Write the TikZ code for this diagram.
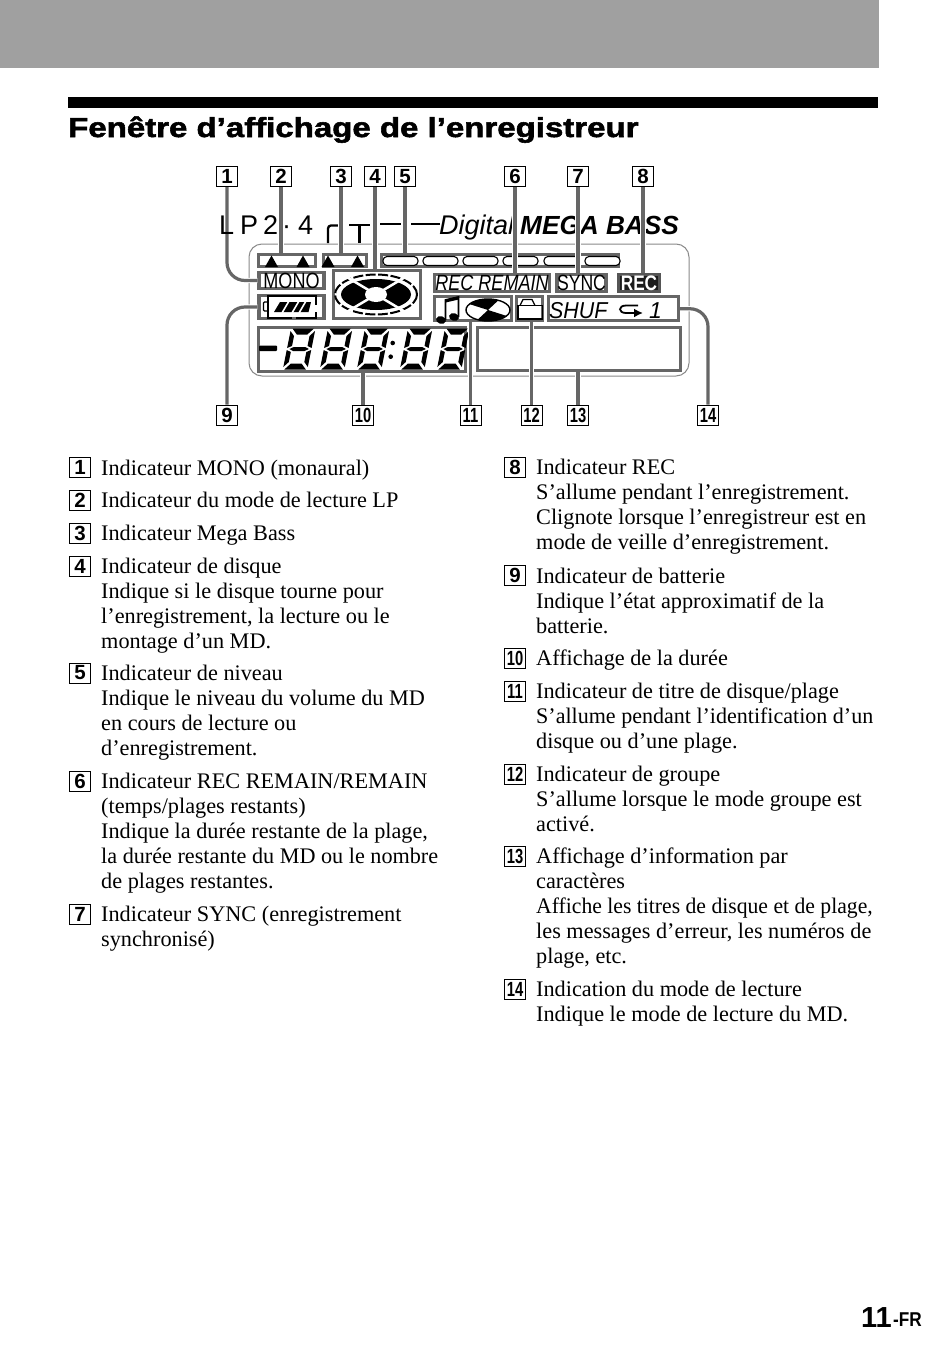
\documentclass[tikz,border=0pt]{standalone}
\usepackage{fontspec}
\usepackage{graphicx}
\usepackage{xcolor}
\usetikzlibrary{arrows.meta, positioning, calc}
\setmainfont{Liberation Serif}
\setsansfont{Liberation Sans}
\newfontfamily\titlefont[FakeStretch=1.2,FakeBold=2]{Liberation Sans Bold}
\definecolor{Ink}{HTML}{000000}
\definecolor{HeadGray}{HTML}{A0A0A0}
\definecolor{LcdGray}{HTML}{666666}
\definecolor{RimGray}{HTML}{8A8A8A}
\definecolor{RecDark}{HTML}{1C1C1C}
\newcommand{\tight}[1]{\scalebox{0.72}[1]{#1}}
\newcommand{\snug}[2]{\scalebox{#1}[1]{#2}}

\begin{document}
\begin{tikzpicture}[
  x=1pt, y=-1pt,
  font=\sffamily,
  numbox/.style={draw=Ink, line width=1pt, fill=white, minimum width=21pt, minimum height=20pt, inner sep=0pt, font=\fontsize{20.5}{20.5}\selectfont\sffamily\bfseries},
  lcd/.style={draw=LcdGray, line width=3.4pt, fill=white, inner sep=0pt},
  leader/.style={draw=LcdGray, line width=3.2pt, preaction={draw=white, line width=5.2pt}},
  desc/.style={anchor=north west, inner sep=0pt, align=left, font=\fontsize{22.25}{25}\selectfont\rmfamily, execute at begin node=\strut},
  lcddigit/.pic={
    \begin{scope}[xslant=0.2]
    \fill[Ink] (1.5,0) -- (23,0) -- (17.5,6) -- (7,6) -- cycle;
    \fill[Ink] (1.5,41) -- (23,41) -- (17.5,35) -- (7,35) -- cycle;
    \fill[Ink] (0,2.5) -- (4.5,7.5) -- (4.5,17.5) -- (0,19.5) -- cycle;
    \fill[Ink] (24.5,2.5) -- (20,7.5) -- (20,17.5) -- (24.5,19.5) -- cycle;
    \fill[Ink] (0,21.5) -- (4.5,23.5) -- (4.5,33.5) -- (0,38.5) -- cycle;
    \fill[Ink] (24.5,21.5) -- (20,23.5) -- (20,33.5) -- (24.5,38.5) -- cycle;
    \fill[Ink] (2.5,20.5) -- (6.5,18.5) -- (18,18.5) -- (22,20.5) -- (18,22.5) -- (6.5,22.5) -- cycle;
    \end{scope}
  }
]
\useasboundingbox (0,0) rectangle (950,1354);
\fill[white] (0,0) rectangle (950,1354);

% page head
\fill[HeadGray] (0,0) rectangle (879,68);
\fill[Ink] (68,97) rectangle (878,108);
\node[anchor=base west, inner sep=0pt, font=\fontsize{27.5}{28}\titlefont] (title) at (68,137) {Fenêtre d’affichage de l’enregistreur};

% print on the recorder
\draw[RimGray, line width=1pt, rounded corners=13pt] (249,244) rectangle (689,376);
\draw[Ink, line width=2.3pt, rounded corners=3pt] (328,243) -- (328,225.5) -- (338,225.5);
\draw[Ink, line width=2.3pt] (349,225) -- (370,225) (359.5,225) -- (359.5,243);
\draw[Ink, line width=2.2pt] (380,224) -- (401,224);
\draw[Ink, line width=2.2pt] (411,224) -- (440,224);
\node[anchor=base west, inner sep=0pt, font=\fontsize{27}{27}\sffamily\itshape] (digital) at (439,234) {Digital};
\node[anchor=base west, inner sep=0pt, font=\fontsize{26.2}{27}\sffamily\bfseries\itshape] (megabass) at (520,234) {MEGA BASS};

% window segments
\node[lcd, minimum width=57pt, minimum height=12pt] (lpbox) at (287,260.5) {};
\fill[Ink] (265,267) -- (271.5,255.5) -- (278,267) -- cycle;
\fill[Ink] (296.5,267) -- (303,255.5) -- (309.5,267) -- cycle;
\node[lcd, minimum width=43pt, minimum height=12pt] (bassbox) at (345,260.5) {};
\fill[Ink] (321.5,267) -- (328,255.5) -- (334.5,267) -- cycle;
\fill[Ink] (351,267) -- (357.5,255.5) -- (364,267) -- cycle;
\node[lcd, minimum width=237pt, minimum height=12pt] (levelbox) at (500,260.5) {};
\foreach \px in {383,423,463,503,544,585}
  \draw[Ink, line width=1.1pt, fill=white, rounded corners=4pt] (\px,256.5) rectangle (\px+35,265.5);

\node[lcd, minimum width=65pt, minimum height=14pt, font=\fontsize{22}{22}\sffamily] (monobox) at (291.5,280.5) {\raisebox{-1pt}{\scalebox{0.82}[1]{MONO}}};
\node[lcd, minimum width=65pt, minimum height=22.5pt] (batbox) at (291.5,307) {};
\draw[Ink, line width=1.4pt] (292,318) -- (268,318) -- (268,296) -- (316,296) -- (316,305);
\draw[Ink, line width=1.4pt] (316,312) -- (316,318) -- (296,318);
\draw[Ink, line width=1.4pt, rounded corners=1pt] (268,302) -- (263.5,302) -- (263.5,311) -- (268,311);
\fill[Ink] (274,312) -- (280,302) -- (311,302) -- (308.5,312) -- cycle;
\draw[white, line width=1.6pt] (282,313) -- (289,301) (292,313) -- (299,301) (299,313) -- (306,301);

\node[lcd, minimum width=87pt, minimum height=48pt] (discbox) at (377,294.5) {};
\draw[Ink, line width=2pt, dash pattern=on 10pt off 2.5pt] (376,294.5) ellipse [x radius=41, y radius=20];
\fill[Ink] (376,294.5) ellipse [x radius=35, y radius=15.5];
\draw[white, line width=2.5pt] (345,276) -- (407,313) (407,276) -- (345,313);
\fill[white] (376,294.5) ellipse [x radius=11, y radius=7.5];

\node[lcd, minimum width=115pt, minimum height=17pt, font=\fontsize{22}{22}\sffamily\itshape] (remainbox) at (492,283) {\raisebox{-1pt}{\scalebox{0.82}[1]{REC REMAIN}}};
\node[lcd, minimum width=48pt, minimum height=17pt, font=\fontsize{22}{22}\sffamily] (syncbox) at (581.5,283) {\raisebox{-1pt}{\scalebox{0.8}[1]{SYNC}}};
\node[lcd, fill=RecDark, draw=RecDark!75!white, minimum width=41pt, minimum height=17pt, text=white, font=\fontsize{21}{21}\sffamily\bfseries] (recbox) at (639,283) {\raisebox{-1pt}{\scalebox{0.82}[1]{REC}}};

\node[lcd, minimum width=77pt, minimum height=24pt] (titlebox) at (473,308.75) {};
\fill[Ink, rotate around={-15:(441,320)}] (441,320) ellipse [x radius=5, y radius=3.8];
\fill[Ink, rotate around={-15:(454,317)}] (454,317) ellipse [x radius=5, y radius=3.8];
\draw[Ink, line width=1.8pt] (445.5,320) -- (445.5,300) -- (458.5,297) -- (458.5,317);
\draw[Ink, line width=3pt] (445.5,301) -- (458.5,298);
\begin{scope}
  \clip (488,310) ellipse [x radius=22, y radius=11];
  \fill[Ink] (488,310) -- (466,303) -- (470,296) -- (503,296) -- cycle;
  \fill[Ink] (488,310) -- (510,317) -- (506,324) -- (473,324) -- cycle;
\end{scope}
\draw[Ink, line width=1.4pt] (488,310) ellipse [x radius=22, y radius=11];

\node[lcd, minimum width=26pt, minimum height=24pt] (groupbox) at (529.5,308.75) {};
\draw[Ink, line width=1.8pt] (518,305.5) rectangle (542.5,319);
\draw[Ink, line width=1.2pt] (520,305.5) -- (523,299.5) -- (532,299.5) -- (535,305.5);

\node[lcd, minimum width=130pt, minimum height=24pt] (modebox) at (613.5,308.75) {};
\node[anchor=base west, inner sep=0pt, font=\fontsize{23}{23}\sffamily\itshape] (shuf) at (549,318) {\scalebox{0.93}[1]{SHUF}};
\draw[Ink, line width=1.8pt, -{Latex[length=9pt, width=9pt]}] (638,305.5) -- (626,305.5) .. controls (618,305.5) and (618,313) .. (626,313) -- (643,313);
\node[anchor=base west, inner sep=0pt, font=\fontsize{23}{23}\sffamily\itshape] (one) at (649,318) {1};

\node[lcd, minimum width=207pt, minimum height=44pt] (timebox) at (362,349.5) {};
\fill[Ink, rounded corners=1pt] (259,345.5) rectangle (277,351);
\pic at (291,328.5) {lcddigit};
\pic at (328,328.5) {lcddigit};
\pic at (365,328.5) {lcddigit};
\fill[Ink] (392.7,343) circle (2.3);
\fill[Ink] (390.7,356.7) circle (2.3);
\pic at (408,328.5) {lcddigit};
\pic at (445,328.5) {lcddigit};
\node[lcd, minimum width=203pt, minimum height=43pt] (charbox) at (579,349) {};

% number boxes above
\node[numbox] (n1) at (227,176.5) {1};
\node[numbox] (n2) at (281,176.5) {2};
\node[numbox] (n3) at (341,176.5) {3};
\node[numbox] (n4) at (375,176.5) {4};
\node[numbox] (n5) at (405,176.5) {5};
\node[numbox] (n6) at (515,176.5) {6};
\node[numbox] (n7) at (578,176.5) {7};
\node[numbox] (n8) at (643,176.5) {8};
% number boxes below
\node[numbox] (n9) at (227,415) {9};
\node[numbox] (n10) at (363,415) {\tight{10}};
\node[numbox] (n11) at (470.5,415) {\tight{11}};
\node[numbox] (n12) at (531.5,415) {\tight{12}};
\node[numbox] (n13) at (578,415) {\tight{13}};
\node[numbox] (n14) at (708,415) {\tight{14}};

% leaders
\draw[leader, rounded corners=18pt] (n1.south) |- (monobox.west);
\draw[leader] (n2.south) -- (n2.south |- lpbox.north);
\draw[leader] (n3.south) -- (n3.south |- bassbox.north);
\draw[leader] (n4.south) -- (n4.south |- discbox.north);
\draw[leader] (n5.south) -- (n5.south |- levelbox.north);
\draw[leader] (n6.south) -- (n6.south |- remainbox.north);
\draw[leader] (n7.south) -- (n7.south |- syncbox.north);
\draw[leader] (n8.south) -- (n8.south |- recbox.north);
\draw[leader, rounded corners=18pt] (n9.north) |- (batbox.west);
\draw[leader] (n10.north) -- (n10.north |- timebox.south);
\draw[leader] (n11.north) -- (n11.north |- titlebox.south);
\draw[leader] (n12.north) -- (n12.north |- groupbox.south);
\draw[leader] (n13.north) -- (n13.north |- charbox.south);
\draw[leader, rounded corners=18pt] (n14.north) |- (modebox.east);
\node[anchor=base west, inner sep=0pt, font=\fontsize{27}{27}\sffamily] (lptext) at (219,234) {L\hspace{6pt}P\hspace{5pt}2\hspace{4pt}·\hspace{7pt}4};

% left column
\node[numbox] (l1) at (80,467.5) {1};
\node[desc] (d1) at (101,457.3) {Indicateur MONO (monaural)};
\node[numbox] (l2) at (80,500.5) {2};
\node[desc] (d2) at (101,489.3) {Indicateur du mode de lecture LP};
\node[numbox] (l3) at (80,533.5) {3};
\node[desc] (d3) at (101,522.3) {Indicateur Mega Bass};
\node[numbox] (l4) at (80,566) {4};
\node[desc] (d4) at (101,558) {Indicateur de disque\\Indique si le disque tourne pour\\l’enregistrement, la lecture ou le\\montage d’un MD.};
\node[numbox] (l5) at (80,673) {5};
\node[desc] (d5) at (101,665) {Indicateur de niveau\\Indique le niveau du volume du MD\\en cours de lecture ou\\d’enregistrement.};
\node[numbox] (l6) at (80,781) {6};
\node[desc] (d6) at (101,773) {Indicateur REC REMAIN/REMAIN\\(temps/plages restants)\\Indique la durée restante de la plage,\\\snug{0.997}{la durée restante du MD ou le nombre}\\de plages restantes.};
\node[numbox] (l7) at (80,914) {7};
\node[desc] (d7) at (101,906) {Indicateur SYNC (enregistrement\\synchronisé)};

% right column
\node[numbox] (l8) at (515,467.5) {8};
\node[desc] (d8) at (536,458.8) {Indicateur REC\\S’allume pendant l’enregistrement.\\Clignote lorsque l’enregistreur est en\\mode de veille d’enregistrement.};
\node[numbox] (l9) at (515,575.5) {9};
\node[desc] (d9) at (536,567.5) {Indicateur de batterie\\Indique l’état approximatif de la\\batterie.};
\node[numbox] (l10) at (515,658) {\tight{10}};
\node[desc] (d10) at (536,647.3) {Affichage de la durée};
\node[numbox] (l11) at (515,691) {\tight{11}};
\node[desc] (d11) at (536,683.3) {Indicateur de titre de disque/plage\\\snug{0.99}{S’allume pendant l’identification d’un}\\disque ou d’une plage.};
\node[numbox] (l12) at (515,774) {\tight{12}};
\node[desc] (d12) at (536,766.3) {Indicateur de groupe\\S’allume lorsque le mode groupe est\\activé.};
\node[numbox] (l13) at (515,856.5) {\tight{13}};
\node[desc] (d13) at (536,847.3) {Affichage d’information par\\caractères\\\snug{0.974}{Affiche les titres de disque et de plage,}\\les messages d’erreur, les numéros de\\plage, etc.};
\node[numbox] (l14) at (515,989) {\tight{14}};
\node[desc] (d14) at (536,981.3) {Indication du mode de lecture\\Indique le mode de lecture du MD.};

% folio
\node[anchor=base west, inner sep=0pt, font=\fontsize{29}{29}\sffamily\bfseries] (folio) at (861,1327) {11};
\node[anchor=base west, inner sep=0pt, font=\fontsize{20}{20}\sffamily\bfseries] (lang) at (893,1326) {\scalebox{0.86}[1]{-FR}};
\end{tikzpicture}
\end{document}
